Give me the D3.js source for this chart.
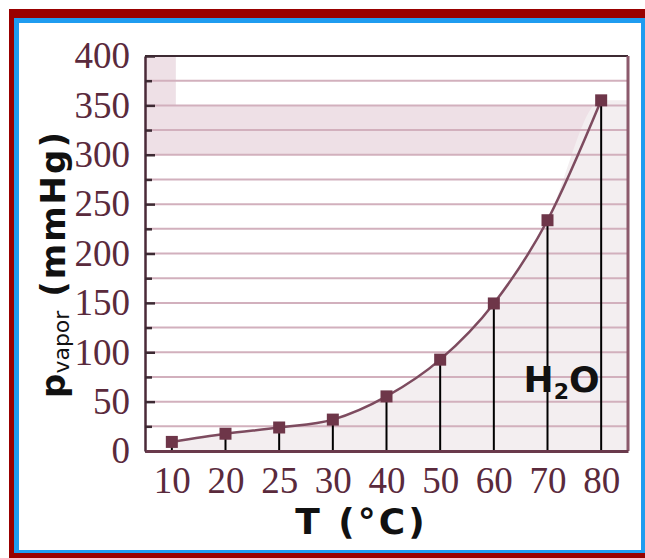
<!DOCTYPE html>
<html>
<head>
<meta charset="utf-8">
<script src="https://cdn.jsdelivr.net/npm/d3@7"></script>
<style>
  body { margin: 0; background: #fff; }
  svg { display: block; }
</style>
</head>
<body>
<div id="chart"></div>
<script>
// data
var temps = ["10", "20", "25", "30", "40", "50", "60", "70", "80"];
var pressures = [9.2, 17.5, 23.8, 31.8, 55.3, 92.5, 149.4, 233.7, 355.1];
var yTicks = [0, 50, 100, 150, 200, 250, 300, 350, 400];
var minorTicks = [25, 75, 125, 175, 225, 275, 325, 375];
var gridValues = [25, 50, 75, 100, 125, 150, 175, 200, 225, 250, 275, 300, 325, 350, 375];
var shadeBand = [300, 350];
var shadeCorner = [350, 400];

var W = 645, H = 558;
var margin = {top: 56, right: 17, bottom: 107, left: 145},
    width = W - margin.left - margin.right,
    height = H - margin.top - margin.bottom;

var root = d3.select("#chart")
  .append("svg")
    .attr("width", W)
    .attr("height", H);

// frame: dark red, then blue, then white
root.append("rect").attr("x", 9).attr("y", 9).attr("width", 660).attr("height", 570).attr("fill", "#990000");
root.append("rect").attr("x", 14).attr("y", 18).attr("width", 631).attr("height", 535).attr("fill", "#1f9cf0");
root.append("rect").attr("x", 19).attr("y", 23).attr("width", 622).attr("height", 527).attr("fill", "#ffffff");

var svg = root.append("g")
    .attr("transform", "translate(" + margin.left + "," + margin.top + ")");

var x = d3.scalePoint()
  .domain(temps)
  .range([0, width])
  .padding(0.5);

var y = d3.scaleLinear()
  .domain([0, 400])
  .range([height, 0]);

var data = temps.map(function(t, i) { return {t: t, p: pressures[i]}; });

// light shading
svg.append("rect")
  .attr("x", 0).attr("width", width)
  .attr("y", y(shadeBand[1])).attr("height", y(shadeBand[0]) - y(shadeBand[1]))
  .attr("fill", "#eee0e6");
svg.append("rect")
  .attr("x", 0).attr("width", x(temps[0]) + 4)
  .attr("y", y(shadeCorner[1])).attr("height", y(shadeCorner[0]) - y(shadeCorner[1]))
  .attr("fill", "#eee0e6");

var area = d3.area()
  .curve(d3.curveMonotoneX)
  .x(function(d) { return d.x; })
  .y0(height)
  .y1(function(d) { return d.y; });
var areaPts = data.map(function(d) { return {x: x(d.t), y: y(d.p)}; });
areaPts.push({x: width, y: y(pressures[pressures.length - 1])});
svg.append("path")
  .datum(areaPts)
  .attr("fill", "#f3eef0")
  .attr("d", area);

// grid lines
svg.selectAll(".grid")
  .data(gridValues)
  .enter().append("line")
    .attr("x1", 0).attr("x2", width)
    .attr("y1", function(d) { return y(d); })
    .attr("y2", function(d) { return y(d); })
    .attr("stroke", "#d2b0bd")
    .attr("stroke-width", 2);

// top and right of the box
svg.append("line").attr("x1", 0).attr("x2", width).attr("y1", 0).attr("y2", 0)
  .attr("stroke", "#3d2a33").attr("stroke-width", 2);
svg.append("line").attr("x1", width).attr("x2", width).attr("y1", 0).attr("y2", height)
  .attr("stroke", "#8c5a6c").attr("stroke-width", 3);

// drop lines
svg.selectAll(".drop")
  .data(data)
  .enter().append("line")
    .attr("x1", function(d) { return x(d.t); })
    .attr("x2", function(d) { return x(d.t); })
    .attr("y1", function(d) { return y(d.p); })
    .attr("y2", height)
    .attr("stroke", "#000")
    .attr("stroke-width", 2);

// Y axis
var yAxis = svg.append("g")
  .call(d3.axisLeft(y).tickValues(yTicks).tickSizeInner(-10).tickSizeOuter(0).tickPadding(15));
yAxis.select(".domain").attr("stroke", "#4a2a38").attr("stroke-width", 2.5);
yAxis.selectAll(".tick line").attr("stroke", "#3d2a33").attr("stroke-width", 2.5);
yAxis.selectAll(".tick text")
  .attr("fill", "#5a2a3c")
  .style("font-family", "'Liberation Serif', serif")
  .style("font-size", "37px");

var yMinor = svg.append("g")
  .call(d3.axisLeft(y).tickValues(minorTicks).tickSizeInner(-7).tickSizeOuter(0).tickFormat(""));
yMinor.select(".domain").remove();
yMinor.selectAll(".tick line").attr("stroke", "#3d2a33").attr("stroke-width", 2.5);

// X axis
var xAxis = svg.append("g")
  .attr("transform", "translate(0," + height + ")")
  .call(d3.axisBottom(x).tickSize(0).tickPadding(16));
xAxis.select(".domain").attr("stroke", "#6a3a4c").attr("stroke-width", 3);
xAxis.selectAll(".tick text")
  .attr("fill", "#5a2a3c")
  .style("font-family", "'Liberation Serif', serif")
  .style("font-size", "37px");

// the curve
svg.append("path")
  .datum(data)
  .attr("fill", "none")
  .attr("stroke", "#7d4b5f")
  .attr("stroke-width", 2.5)
  .attr("d", d3.line()
    .curve(d3.curveMonotoneX)
    .x(function(d) { return x(d.t); })
    .y(function(d) { return y(d.p); }));

// markers
svg.selectAll(".pt")
  .data(data)
  .enter().append("rect")
    .attr("x", function(d) { return x(d.t) - 6; })
    .attr("y", function(d) { return y(d.p) - 6; })
    .attr("width", 12)
    .attr("height", 12)
    .attr("fill", "#6e3649");

// H2O label
var h2o = svg.append("text")
  .attr("x", x("70") - 24)
  .attr("y", y(60))
  .style("font-family", "'DejaVu Sans', sans-serif")
  .style("font-weight", "bold")
  .style("font-size", "36px")
  .attr("fill", "#111");
h2o.append("tspan").text("H");
h2o.append("tspan").attr("dy", 7).style("font-size", "22px").text("2");
h2o.append("tspan").attr("dy", -7).text("O");

// X axis label
svg.append("text")
  .attr("text-anchor", "middle")
  .attr("x", x("40") - 25)
  .attr("y", height + 83)
  .style("font-family", "'DejaVu Sans', sans-serif")
  .style("font-weight", "bold")
  .style("font-size", "36px")
  .style("letter-spacing", "3px")
  .attr("fill", "#111")
  .text("T (°C)");

// Y axis label
var yl = svg.append("text")
  .attr("text-anchor", "middle")
  .attr("transform", "rotate(-90)")
  .attr("x", -(264 - margin.top))
  .attr("y", -margin.left + 65)
  .style("font-family", "'DejaVu Sans', sans-serif")
  .style("font-weight", "bold")
  .style("font-size", "34px")
  .attr("fill", "#111");
yl.append("tspan").text("p");
yl.append("tspan").attr("dy", 4).style("font-size", "22px").style("font-weight", "normal").text("vapor");
yl.append("tspan").attr("dy", -4).style("letter-spacing", "2px").text(" (mmHg)");
</script>
</body>
</html>
